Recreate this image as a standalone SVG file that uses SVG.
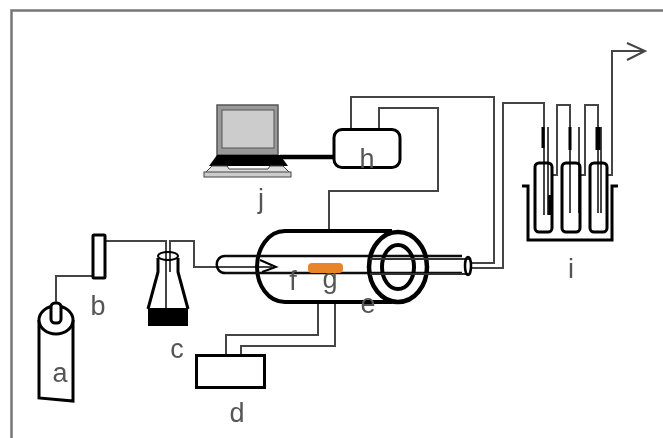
<svg xmlns="http://www.w3.org/2000/svg" width="663" height="438" viewBox="0 0 663 438">
<defs><filter id="soft" x="-2%" y="-2%" width="104%" height="104%"><feGaussianBlur stdDeviation="0.55"/></filter></defs>
<style>
.w{fill:none;stroke:#444;stroke-width:2}
.o{fill:none;stroke:#000;stroke-width:3}
.f{fill:#fff;stroke:#000;stroke-width:3}
.t{font-family:"Liberation Sans",Arial,sans-serif;font-size:27px;fill:#555;text-anchor:middle}
</style>
<rect width="663" height="438" fill="#fff"/>
<g filter="url(#soft)">
<path id="frame" d="M11.500 438V10.500H663" fill="none" stroke="#777" stroke-width="2.500"/>
<g id="connectors">
<path class="w" d="M56 303V276H93"/>
<path class="w" d="M105 241H166V309M170 272V241H194V267H216"/>
<path class="w" d="M205 267H272"/>
<path class="w" d="M318 302V335H226V355M335 302V346H241V355"/>
<path class="w" d="M351 129V97H494V263H470M379 129V108H438V191H329V231"/>
<path class="w" d="M470 268H503V103H544V215M548 127V215"/>
<path class="w" d="M552 175H557V105H570V213M579 127V213"/>
<path class="w" d="M580 175H585V105H598V213M601 127V213"/>
<path class="w" d="M607 175H612V51H644M627 43L645 51L627 60"/>
<path d="M280 157H334" fill="none" stroke="#000" stroke-width="4.500"/>
</g>
<g id="a">
<path class="o" d="M39 320V398L73 401V320"/>
<ellipse class="f" cx="56" cy="320" rx="17" ry="14"/>
<rect class="f" x="51" y="303" width="10" height="20" rx="4"/>
<text class="t" x="60" y="382">a</text>
</g>
<g id="b">
<rect class="f" x="93" y="235" width="12" height="43" rx="1"/>
<text class="t" x="98" y="315">b</text>
</g>
<g id="c">
<path class="o" d="M158 258V272L148 309M178 258V272L188 309"/>
<ellipse class="o" cx="168" cy="256" rx="10" ry="4" style="stroke-width:2"/>
<rect x="148" y="308" width="40" height="18" fill="#000"/>
<text class="t" x="177" y="358">c</text>
</g>
<g id="d">
<rect class="f" x="196.500" y="355.500" width="68" height="32"/>
<text class="t" x="237" y="422">d</text>
</g>
<g id="e">
<path class="o" style="stroke-width:4" d="M392 231H285C268 231 257 249 257 267C257 285 268 302 285 302H392"/>
<path style="fill:none;stroke:#111;stroke-width:2.500" d="M225 256H462M225 273H462"/>
<path class="o" style="stroke-width:2.500" d="M225 256C214 256 214 273 225 273"/>
<ellipse class="o" style="stroke-width:4.500" cx="398" cy="267" rx="29" ry="35"/>
<ellipse class="o" style="stroke-width:4" cx="398" cy="267" rx="16" ry="22"/>
<path style="fill:none;stroke:#333;stroke-width:2" d="M370 259H470M370 274H470"/>
<ellipse class="o" style="stroke-width:2.500" cx="468" cy="266" rx="3" ry="9"/>
<path class="o" style="stroke-width:2" d="M260 260L276 267L262 272"/>
<text class="t" x="368" y="313">e</text>
</g>
<g id="f"><text class="t" x="293" y="290">f</text></g>
<g id="g">
<rect x="308" y="263" width="35" height="10" rx="4" fill="#e8842c"/>
<text class="t" x="330" y="288">g</text>
</g>
<g id="h">
<rect class="f" x="334" y="129.500" width="66" height="38" rx="8"/>
<text class="t" x="367" y="168">h</text>
</g>
<g id="j">
<rect x="217" y="105" width="61" height="50" fill="#999" stroke="#555" stroke-width="1.500"/>
<rect x="222" y="110" width="52" height="38" fill="#ccc" stroke="#555"/>
<path d="M209 166L217 155H280L288 166Z" fill="#000"/>
<path d="M204 174L212 166H227L229 169H268L270 166H283L291 174Z" fill="#ddd" stroke="#444"/>
<rect x="204" y="172" width="87" height="5" fill="#ccc" stroke="#444"/>
<text class="t" x="261" y="208">j</text>
</g>
<g id="i">
<path class="o" d="M522 186H528V240H612V186H618"/>
<rect class="o" x="535" y="163" width="17" height="69" rx="4"/>
<rect class="o" x="562" y="163" width="18" height="69" rx="4"/>
<rect class="o" x="590" y="163" width="17" height="69" rx="4"/>
<path fill="none" stroke="#000" stroke-width="3" d="M543 127V148M570 127V150"/>
<path fill="none" stroke="#000" stroke-width="5" d="M598 127V150"/>
<path fill="none" stroke="#000" stroke-width="3.500" d="M550 195V215"/>
<text class="t" x="571" y="278">i</text>
</g>
</g>
</svg>
